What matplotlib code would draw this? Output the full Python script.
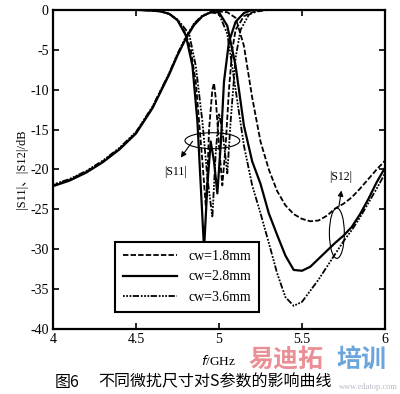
import matplotlib
matplotlib.use('Agg')
import matplotlib.pyplot as plt
from matplotlib.patches import Ellipse

# ---------------- DATA ----------------
labels = ["cw=1.8mm", "cw=2.8mm", "cw=3.6mm"]

# |S12| curves
s12_f_18 = [4.0, 4.1, 4.2, 4.3, 4.4, 4.5, 4.6, 4.7, 4.75, 4.8, 4.85, 4.9, 4.95, 5.0, 5.05, 5.1,
            5.15, 5.2, 5.25, 5.3, 5.35, 5.4, 5.45, 5.5, 5.55, 5.6, 5.65, 5.7, 5.75, 5.8, 5.85,
            5.9, 5.95, 6.0]
s12_db_18 = [-22.0, -21.3, -20.3, -19.0, -17.4, -15.4, -12.2, -8.0, -5.6, -3.5, -1.8, -0.8, -0.3,
             -0.2, -0.3, -1.0, -4.5, -11.0, -16.5, -20.0, -22.7, -24.5, -25.6, -26.2, -26.5,
             -26.4, -25.8, -24.9, -24.3, -23.5, -22.4, -21.2, -20.0, -18.9]

s12_f_28 = [4.0, 4.1, 4.2, 4.3, 4.4, 4.5, 4.6, 4.7, 4.75, 4.8, 4.85, 4.9, 4.95, 5.0, 5.05, 5.1,
            5.15, 5.2, 5.25, 5.3, 5.35, 5.4, 5.45, 5.5, 5.55, 5.6, 5.65, 5.7, 5.75, 5.8, 5.85,
            5.9, 5.95, 6.0]
s12_db_28 = [-22.1, -21.4, -20.4, -19.1, -17.5, -15.5, -12.3, -8.1, -5.7, -3.6, -1.9, -0.8, -0.3,
             -0.3, -2.0, -7.0, -14.5, -19.0, -21.8, -25.5, -28.2, -30.8, -32.6, -32.7, -32.2,
             -31.2, -30.2, -29.2, -28.3, -27.2, -25.6, -23.7, -21.6, -19.8]

s12_f_36 = [4.0, 4.1, 4.2, 4.3, 4.4, 4.5, 4.6, 4.7, 4.75, 4.8, 4.85, 4.9, 4.95, 5.0, 5.05, 5.1,
            5.15, 5.2, 5.25, 5.3, 5.35, 5.4, 5.45, 5.5, 5.55, 5.6, 5.65, 5.7, 5.75, 5.8, 5.85,
            5.9, 5.95, 6.0]
s12_db_36 = [-21.9, -21.2, -20.2, -18.9, -17.3, -15.3, -12.1, -7.9, -5.5, -3.4, -1.7, -0.7, -0.3,
             -0.5, -3.0, -10.0, -17.0, -22.0, -25.5, -29.2, -33.0, -36.0, -37.1, -36.6, -35.2,
             -33.8, -32.2, -30.6, -29.0, -27.6, -26.0, -24.2, -22.4, -20.5]

# |S11| curves
s11_f_18 = [4.0, 4.5, 4.6, 4.65, 4.7, 4.75, 4.8, 4.83, 4.86, 4.88, 4.9, 4.92, 4.93, 4.94, 4.96,
            4.97, 4.98, 5.0, 5.02, 5.04, 5.06, 5.08, 5.1, 5.15, 5.2, 5.3, 6.0]
s11_db_18 = [0.0, 0.0, -0.1, -0.2, -0.5, -1.3, -3.0, -5.0, -9.0, -14.0, -19.0, -24.5, -21.0,
             -15.0, -10.0, -9.2, -11.0, -17.0, -22.0, -17.0, -10.0, -5.0, -2.5, -0.8, -0.3,
             0.0, 0.0]

s11_f_28 = [4.0, 4.5, 4.6, 4.65, 4.7, 4.75, 4.8, 4.84, 4.87, 4.89, 4.91, 4.93, 4.95, 4.97, 4.99,
            5.01, 5.03, 5.06, 5.1, 5.15, 5.2, 6.0]
s11_db_28 = [0.0, 0.0, -0.1, -0.2, -0.5, -1.3, -3.2, -7.0, -14.0, -22.0, -30.0, -22.0, -16.5,
             -19.0, -23.0, -17.0, -9.0, -4.0, -1.5, -0.4, 0.0, 0.0]

s11_f_36 = [4.0, 4.5, 4.6, 4.65, 4.7, 4.75, 4.82, 4.86, 4.9, 4.93, 4.96, 4.98, 5.0, 5.02, 5.05,
            5.07, 5.1, 5.13, 5.18, 5.25, 6.0]
s11_db_36 = [0.0, 0.0, -0.1, -0.2, -0.5, -1.2, -3.0, -7.0, -14.0, -21.0, -26.0, -18.0, -13.0,
             -15.0, -20.5, -14.0, -6.0, -2.5, -0.6, 0.0, 0.0]

x_ticks = [4, 4.5, 5, 5.5, 6]
x_ticklabels = ["4", "4.5", "5", "5.5", "6"]
y_ticks = [0, -5, -10, -15, -20, -25, -30, -35, -40]
y_ticklabels = ["0", "-5", "-10", "-15", "-20", "-25", "-30", "-35", "-40"]

# ---------------- STYLE ----------------
serif = ['Liberation Serif', 'Noto Sans CJK SC', 'DejaVu Sans']
cjk = ['Noto Sans CJK SC', 'DejaVu Sans']
dash = (0, (3.0, 1.2))
dashdot = (0, (1.0, 0.8, 1.0, 0.8, 1.0, 0.8, 3.5, 1.0))
styles = [dash, '-', dashdot]
widths = [1.3, 1.6, 1.3]

fig = plt.figure(figsize=(4.0, 3.94), dpi=100)
ax = fig.add_axes([0.1325, 0.165, 0.83, 0.81])

s12_sets = [(s12_f_18, s12_db_18), (s12_f_28, s12_db_28), (s12_f_36, s12_db_36)]
s11_sets = [(s11_f_18, s11_db_18), (s11_f_28, s11_db_28), (s11_f_36, s11_db_36)]

for i in range(3):
    ax.plot(s12_sets[i][0], s12_sets[i][1], color='black', ls=styles[i], lw=widths[i],
            label=labels[i])
    ax.plot(s11_sets[i][0], s11_sets[i][1], color='black', ls=styles[i], lw=widths[i])

ax.set_xlim(4, 6)
ax.set_ylim(-40, 0)
ax.set_xticks(x_ticks)
ax.set_xticklabels(x_ticklabels, family=serif, fontsize=10)
ax.set_yticks(y_ticks)
ax.set_yticklabels(y_ticklabels, family=serif, fontsize=10)
ax.tick_params(direction='in', length=4, width=1.2, top=True, right=True, pad=3)
for sp in ax.spines.values():
    sp.set_linewidth(1.6)

ax.set_xlabel("$f$/GHz", family=serif, fontsize=9.5, labelpad=6)
ax.set_ylabel("|S11|、|S12|/dB", family=serif, fontsize=9, labelpad=2)

# annotations
ax.add_patch(Ellipse((4.96, -16.4), 0.33, 2.0, fill=False, lw=0.8, color='black'))
ax.annotate("", xy=(4.76, -18.8), xytext=(4.85, -16.2),
            arrowprops=dict(arrowstyle='-|>', color='black', lw=0.8, mutation_scale=8))
ax.text(4.74, -20.3, "|S11|", family=serif, fontsize=8.5, ha='center', va='center')

ax.add_patch(Ellipse((5.71, -28.0), 0.09, 6.3, fill=False, lw=0.8, color='black'))
ax.annotate("", xy=(5.74, -22.3), xytext=(5.72, -25.0),
            arrowprops=dict(arrowstyle='-|>', color='black', lw=0.8, mutation_scale=8))
ax.text(5.73, -21.0, "|S12|", family=serif, fontsize=8.5, ha='center', va='center')

leg = ax.legend(loc='lower left', bbox_to_anchor=(0.165, 0.03), fancybox=False,
                framealpha=1, edgecolor='black', handlelength=3.9, handletextpad=0.8,
                labelspacing=0.55, borderpad=0.6, prop={'family': serif, 'size': 10})
leg.get_frame().set_linewidth(1.5)

# caption and watermark
fig.text(0.137, 0.03, "图6", family=cjk, fontsize=11.5, va='center')
fig.text(0.245, 0.03, "不同微扰尺寸对S参数的影响曲线", family=cjk, fontsize=11.5, va='center')
fig.text(0.62, 0.088, "易迪拓", family=cjk, fontsize=18, fontweight='bold', color='#e8838a',
         va='center', alpha=0.9)
fig.text(0.84, 0.088, "培训", family=cjk, fontsize=18, fontweight='bold', color='#5b9bd8',
         va='center', alpha=0.9)
fig.text(0.995, 0.008, "www.edatop.com", family=serif, fontsize=6, color='#b8b8c8',
         ha='right', va='bottom')

fig.savefig("out.png", dpi=100)
